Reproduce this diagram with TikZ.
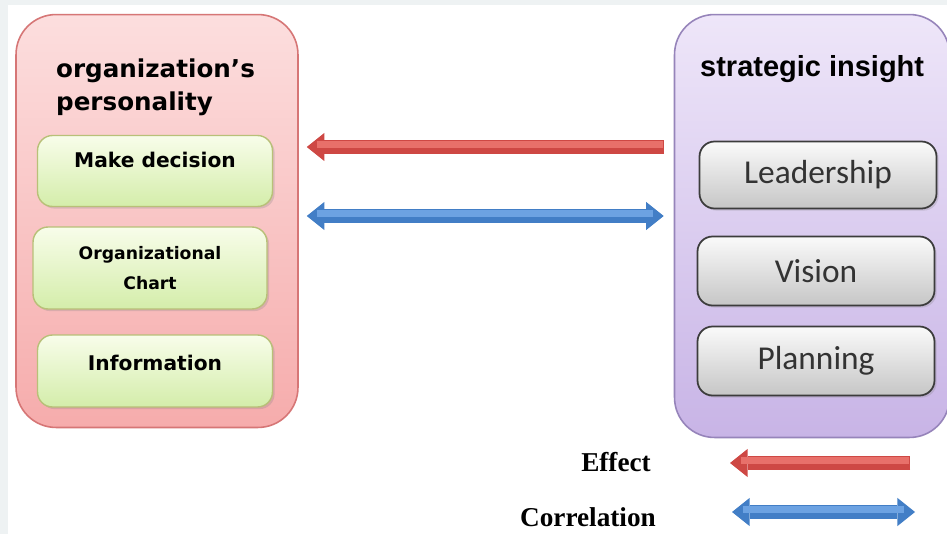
\documentclass[tikz,border=0pt]{standalone}
\usepackage{fontspec}
\setmainfont{Liberation Serif}
\newfontfamily\versans{DejaVu Sans}
\newfontfamily\arsans{Liberation Sans}
\newfontfamily\calsans{Carlito}
\usetikzlibrary{arrows.meta,shadows}
\definecolor{pinktop}{RGB}{252,222,222}
\definecolor{pinkbot}{RGB}{246,172,172}
\definecolor{pinkline}{RGB}{214,118,118}
\definecolor{liltop}{RGB}{238,230,249}
\definecolor{lilbot}{RGB}{200,180,230}
\definecolor{lilline}{RGB}{150,132,186}
\definecolor{greentop}{RGB}{248,253,234}
\definecolor{greenbot}{RGB}{212,237,170}
\definecolor{greenline}{RGB}{184,192,120}
\definecolor{greytop}{RGB}{250,250,250}
\definecolor{greybot}{RGB}{198,198,198}
\definecolor{greyline}{RGB}{60,60,60}
\definecolor{effred}{RGB}{206,72,68}
\definecolor{efflight}{RGB}{232,112,106}
\definecolor{corblue}{RGB}{66,126,198}
\definecolor{corlight}{RGB}{108,162,226}
\definecolor{pagegrey}{RGB}{238,242,243}
\tikzset{
  groupbox/.style={rounded corners=0.8cm, line width=0.9pt, inner sep=0pt},
  itembox/.style={rounded corners=0.3cm, line width=0.8pt, inner sep=0pt,
    align=center, drop shadow={opacity=0.25, shadow xshift=1.2pt, shadow yshift=-1.2pt}},
  persitem/.style={itembox, top color=greentop, bottom color=greenbot, draw=greenline,
    font=\versans\bfseries\fontsize{11.5}{15}\selectfont},
  stratitem/.style={itembox, top color=greytop, bottom color=greybot, draw=greyline,
    line width=1pt, text=black!80, font=\calsans\fontsize{19}{22}\selectfont},
  effect/.style={effred, line width=8.5pt,
    -{Triangle[length=10pt, width=16pt, line width=0pt]},
    postaction={draw=efflight, line width=4pt, -, shorten >=6pt, shorten <=0.5pt,
      transform canvas={yshift=1.2pt}}},
  correlation/.style={corblue, line width=8.5pt,
    {Triangle[length=10pt, width=16pt, line width=0pt]}-{Triangle[length=10pt, width=16pt, line width=0pt]},
    postaction={draw=corlight, line width=4pt, -, shorten >=6pt, shorten <=6pt,
      transform canvas={yshift=1.2pt}}},
  legendtext/.style={anchor=east, font=\bfseries\fontsize{15.5}{18}\selectfont}
}

\begin{document}
\begin{tikzpicture}[x=0.02cm, y=-0.02cm]
    \useasboundingbox (0,0) rectangle (947,534);
    \fill[pagegrey] (0,0) rectangle (947,534);
    \fill[white] (8,5) rectangle (947,534);
    % the two groups
    \node[groupbox, top color=pinktop, bottom color=pinkbot, draw=pinkline,
      minimum width=5.64cm, minimum height=8.26cm] (pers) at (157,221) {};
    \node[groupbox, top color=liltop, bottom color=lilbot, draw=lilline,
      minimum width=5.5cm, minimum height=8.46cm] (strat) at (812,226) {};
    \node[anchor=base west, align=left, font=\versans\bfseries\fontsize{14}{18.5}\selectfont]
      (perstitle) at (50,110) {organization’s\\personality};
    \node[anchor=base west, font=\arsans\bfseries\fontsize{16.5}{18}\selectfont]
      (strattitle) at (694,76) {strategic insight};
    % items of the organization
    \node[persitem, minimum width=4.7cm, minimum height=1.42cm, text depth=13pt] (decide) at (155,171) {Make decision};
    \node[persitem, minimum width=4.68cm, minimum height=1.64cm,
      font=\versans\bfseries\fontsize{9.8}{17}\selectfont] (chart) at (150,268) {Organizational\\Chart};
    \node[persitem, minimum width=4.7cm, minimum height=1.44cm, text depth=9pt] (info) at (155,371) {Information};
    % items of the insight
    \node[stratitem, minimum width=4.74cm, minimum height=1.34cm] (lead) at (818,175) {Leadership};
    \node[stratitem, minimum width=4.74cm, minimum height=1.38cm] (vision) at (816,271) {Vision};
    \node[stratitem, minimum width=4.74cm, minimum height=1.38cm] (plan) at (816,361) {Planning};
    % relations
    \draw[effect] ([xshift=-0.2cm]strat.west |- 0,147) -- ([xshift=0.16cm]pers.east |- 0,147);
    \draw[correlation] ([xshift=0.16cm]pers.east |- 0,216) -- ([xshift=-0.2cm]strat.west |- 0,216);
    % legend
    \node[legendtext] (efftext) at (657,462) {Effect};
    \node[legendtext] (cortext) at (662,517) {Correlation};
    \coordinate (effstart) at (910,463);
    \coordinate (effend) at (730,463);
    \coordinate (corstart) at (732,512);
    \coordinate (corend) at (915,512);
    \draw[effect] (effstart) -- (effend);
    \draw[correlation] (corstart) -- (corend);
\end{tikzpicture}
\end{document}
